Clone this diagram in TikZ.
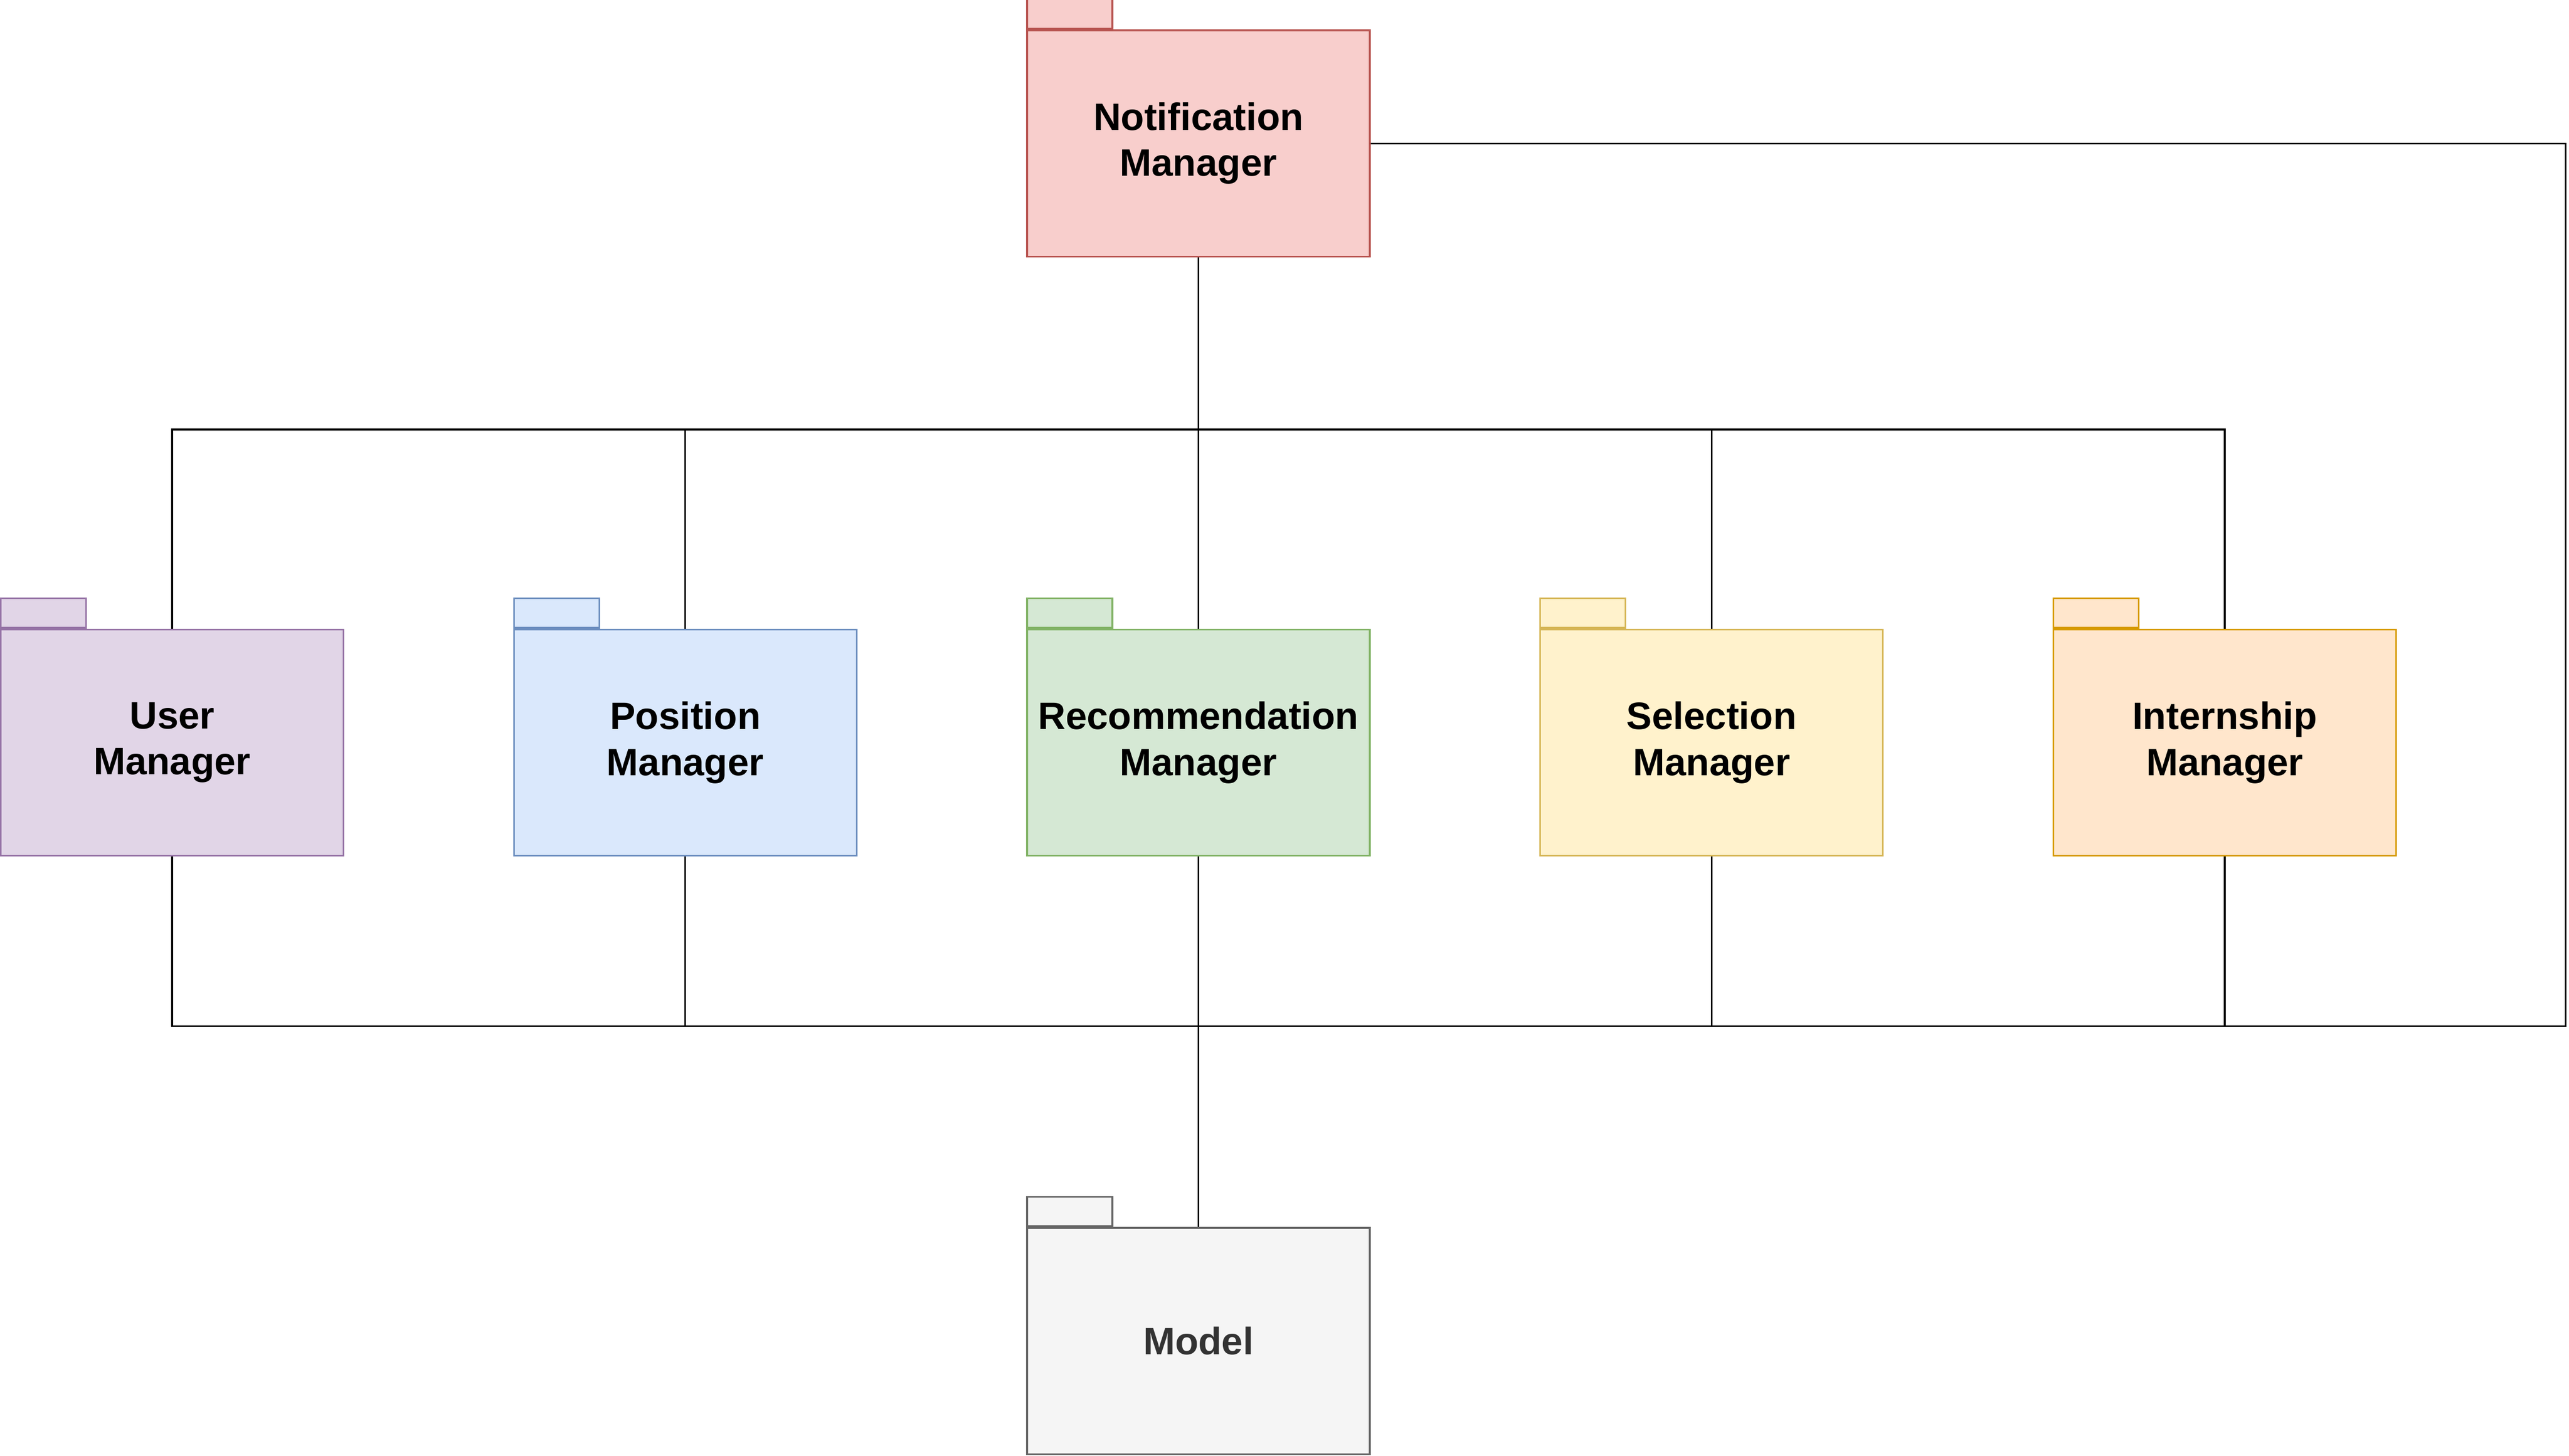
\documentclass[tikz,border=0pt]{standalone}
\usepackage{fontspec}
\setmainfont{Liberation Sans}
\usepackage{tikz}
\usetikzlibrary{positioning}

\definecolor{redfill}{HTML}{F8CECC}
\definecolor{redline}{HTML}{B85450}
\definecolor{purplefill}{HTML}{E1D5E7}
\definecolor{purpleline}{HTML}{9673A6}
\definecolor{bluefill}{HTML}{DAE8FC}
\definecolor{blueline}{HTML}{6C8EBF}
\definecolor{greenfill}{HTML}{D5E8D4}
\definecolor{greenline}{HTML}{82B366}
\definecolor{yellowfill}{HTML}{FFF2CC}
\definecolor{yellowline}{HTML}{D6B656}
\definecolor{orangefill}{HTML}{FFE6CC}
\definecolor{orangeline}{HTML}{D79B00}
\definecolor{grayfill}{HTML}{F5F5F5}
\definecolor{grayline}{HTML}{666666}
\definecolor{graytext}{HTML}{333333}

\begin{document}
\begin{tikzpicture}[x=1pt, y=1pt, line width=1pt,
    pkg/.style={draw, line width=1pt, minimum width=209pt, minimum height=138pt, inner sep=0pt,
        align=center, font=\bfseries\fontsize{23.3}{28}\selectfont},
    pkgtab/.style={draw, line width=1pt, minimum width=52pt, minimum height=18pt, inner sep=0pt, anchor=south west},
    wire/.style={draw=black, line width=1pt}]
    \useasboundingbox (0,0) rectangle (1567,-888);

    % Packages
    \node [pkg, fill=redfill, draw=redline] (notif) at (731,-87.5) {Notification\\Manager};
    \node [pkg, fill=purplefill, draw=purpleline] (user) at (105,-453) {User\\Manager};
    \node [pkg, fill=bluefill, draw=blueline] (position) at (418,-453) {Position\\Manager};
    \node [pkg, fill=greenfill, draw=greenline] (recomm) at (731,-453) {Recommendation\\Manager};
    \node [pkg, fill=yellowfill, draw=yellowline] (select) at (1044,-453) {Selection\\Manager};
    \node [pkg, fill=orangefill, draw=orangeline] (intern) at (1357,-453) {Internship\\Manager};
    \node [pkg, fill=grayfill, draw=grayline, text=graytext] (model) at (731,-818) {Model};

    % Tabs
    \node [pkgtab, fill=redfill, draw=redline] (notiftab) at (notif.north west) {};
    \node [pkgtab, fill=purplefill, draw=purpleline] (usertab) at (user.north west) {};
    \node [pkgtab, fill=bluefill, draw=blueline] (positiontab) at (position.north west) {};
    \node [pkgtab, fill=greenfill, draw=greenline] (recommtab) at (recomm.north west) {};
    \node [pkgtab, fill=yellowfill, draw=yellowline] (selecttab) at (select.north west) {};
    \node [pkgtab, fill=orangefill, draw=orangeline] (interntab) at (intern.north west) {};
    \node [pkgtab, fill=grayfill, draw=grayline] (modeltab) at (model.north west) {};

    % Bus points
    \coordinate (topbus) at (731,-262);
    \coordinate (botbus) at (731,-626);
    \coordinate (rcorner) at (1565,-626);

    % Lines
    \draw [wire] (notif.south) -- (topbus);
    \draw [wire] (user.north) |- (topbus);
    \draw [wire] (position.north) |- (topbus);
    \draw [wire] (recomm.north) -- (topbus);
    \draw [wire] (select.north) |- (topbus);
    \draw [wire] (intern.north) |- (topbus);
    \draw [wire] (user.south) |- (botbus);
    \draw [wire] (position.south) |- (botbus);
    \draw [wire] (recomm.south) -- (botbus);
    \draw [wire] (select.south) |- (botbus);
    \draw [wire] (intern.south) |- (botbus);
    \draw [wire] (model.north) -- (botbus);
    \draw [wire] (notif.east) -| (rcorner) -- (botbus);
\end{tikzpicture}
\end{document}
